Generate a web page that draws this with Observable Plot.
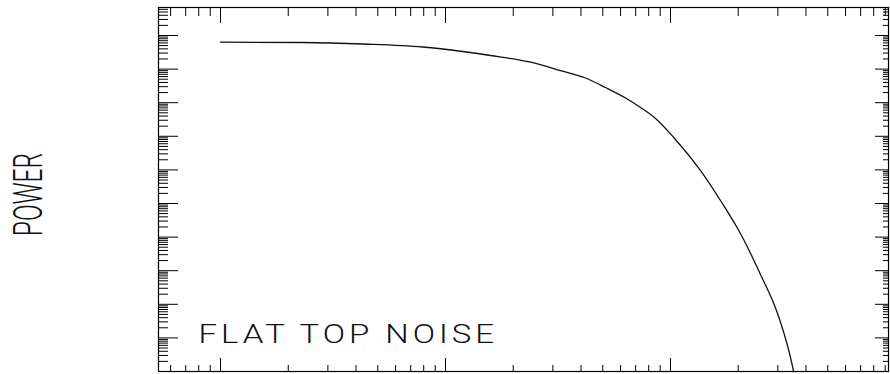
<!DOCTYPE html>
<html><head><meta charset="utf-8">
<script src="https://cdn.jsdelivr.net/npm/d3@7"></script>
<script src="https://cdn.jsdelivr.net/npm/@observablehq/plot@0.6"></script>
<style>html,body{margin:0;padding:0;background:#fff}#chart svg{display:block}</style>
</head><body><div id="chart"></div>
<script>
// Data (log-log axes, no tick labels)
const frequency = [1, 2.27, 4.33, 7.91, 11.9, 15.85, 23.9, 32.4, 41.9, 51.4, 63.1, 73.6, 85.8, 103.1, 135.8, 166.7, 204.6, 251.2, 299.2, 341.2, 352.4];
const power = [0.632, 0.619, 0.558, 0.455, 0.334, 0.254, 0.160, 0.0908, 0.0543, 0.0283, 0.0138, 0.00719, 0.00339, 9.4e-4, 9.6e-5, 1.23e-5, 1.28e-6, 7.7e-8, 5.3e-9, 2.67e-10, 1e-10];
const xDomain = [0.53, 931];
const yDomain = [1e-10, 6.81];
const annotation = "FLAT TOP NOISE";
const yLabel = "POWER";

const data = frequency.map((f, i) => ({f, p: power[i]}));
const isMajor = v => Math.abs(Math.log10(v) - Math.round(Math.log10(v))) < 1e-6;
const xTicks = d3.scaleLog().domain(xDomain).ticks(20);
const yTicks = d3.scaleLog().domain(yDomain).ticks(50);
const xMaj = xTicks.filter(isMajor), xMin = xTicks.filter(v => !isMajor(v));
const yMaj = yTicks.filter(isMajor), yMin = yTicks.filter(v => !isMajor(v));

const W = 890, H = 374, mt = 7, mb = 3, ml = 158, mr = 2;
const fh = H - mt - mb, fw = W - ml - mr;
const tk = {stroke: "#000", strokeWidth: 1};

const svg = Plot.plot({
  width: W, height: H,
  marginTop: mt, marginBottom: mb, marginLeft: ml, marginRight: mr,
  style: {background: "#fff", color: "#000", fontFamily: "Roboto, 'DejaVu Sans', sans-serif"},
  x: {type: "log", domain: xDomain, axis: null},
  y: {type: "log", domain: yDomain, axis: null},
  marks: [
    // top ticks
    Plot.tickX(xMaj, {...tk, insetBottom: fh - 16}),
    Plot.tickX(xMin, {...tk, insetBottom: fh - 9}),
    // bottom ticks
    Plot.tickX(xMaj, {...tk, insetTop: fh - 13}),
    Plot.tickX(xMin, {...tk, insetTop: fh - 6}),
    // left ticks
    Plot.tickY(yMaj, {...tk, insetRight: fw - 20}),
    Plot.tickY(yMin, {...tk, insetRight: fw - 10}),
    // right ticks
    Plot.tickY(yMaj, {...tk, insetLeft: fw - 13}),
    Plot.tickY(yMin, {...tk, insetLeft: fw - 5}),
    Plot.frame({stroke: "#000", strokeWidth: 1.2}),
    Plot.line(data, {x: "f", y: "p", stroke: "#111", strokeWidth: 1.3, curve: "monotone-x"}),
    Plot.text([annotation], {frameAnchor: "bottom-left", textAnchor: "start", lineAnchor: "bottom", dx: 40, dy: -29, fontSize: 25, fontWeight: 300, fill: "#111"}),
    Plot.text([yLabel], {frameAnchor: "left", textAnchor: "middle", lineAnchor: "middle", rotate: -90, dx: -130, dy: 5, fontSize: 41, fontWeight: 300, fill: "#111"})
  ]
});

d3.select(svg).selectAll("text").each(function() {
  const t = d3.select(this);
  const s = t.text();
  if (s === yLabel) t.attr("transform", t.attr("transform") + " scale(0.6,1)");
  if (s === annotation) t.attr("transform", t.attr("transform") + " scale(1.32,1)").style("letter-spacing", "3px");
});

document.getElementById("chart").appendChild(svg);
</script>
</body></html>
